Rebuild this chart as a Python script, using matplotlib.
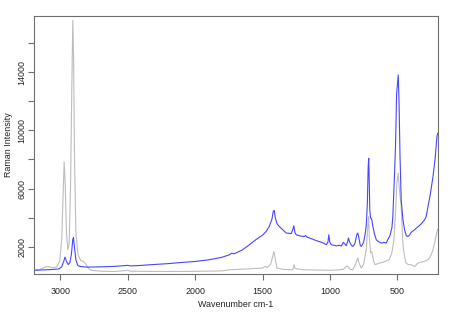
import numpy as np
import matplotlib.pyplot as plt

# Raman spectra (wavenumber cm-1, intensity)
blue_wavenumber = [
    3198, 3150, 3100, 3050, 3010, 2990, 2975, 2966, 2955, 2942, 2930, 2918,
    2908, 2903, 2896, 2885, 2870, 2850, 2800, 2700, 2600, 2500, 2480, 2400,
    2339, 2200, 2100, 2000, 1900, 1800, 1745, 1730, 1710, 1650, 1597, 1550,
    1500, 1473, 1450, 1430, 1420, 1413, 1405, 1395, 1386, 1360, 1324, 1300,
    1287, 1275, 1268, 1260, 1250, 1220, 1190, 1180, 1170, 1140, 1101, 1060,
    1027, 1015, 1008, 1002, 990, 950, 930, 916, 900, 890, 879, 870, 862, 855,
    840, 830, 815, 800, 792, 785, 775, 767, 750, 738, 730, 722, 716, 712, 708,
    704, 698, 690, 681, 670, 656, 640, 619, 600, 582, 570, 555, 540, 533, 520,
    513, 505, 493, 487, 480, 471, 458, 446, 433, 421, 409, 396, 371, 359, 330,
    297, 285, 272, 255, 235, 220, 205, 200,
]
blue_intensity = [
    380, 400, 420, 440, 480, 620, 1000, 1290, 1000, 780, 900, 1500,
    2500, 2640, 2000, 1100, 700, 640, 600, 620, 650, 720, 680, 720,
    760, 840, 920, 990, 1100, 1280, 1450, 1560, 1520, 1780, 2140, 2480,
    2800, 3050, 3400, 3900, 4450, 4490, 4000, 3650, 3500, 3250, 2940, 2920,
    2900, 3200, 3440, 3000, 2820, 2740, 2700, 2780, 2660, 2560, 2420, 2300,
    2140, 2300, 2820, 2350, 2140, 2060, 2100, 2050, 2300, 2200, 2070, 2300, 2600, 2350,
    2100, 2020, 2200, 2850, 2940, 2600, 2100, 2020, 2300, 2900, 3500, 5000, 7500, 8080, 6500,
    4500, 3970, 3900, 3390, 2900, 2480, 2350, 2250, 2300, 2250, 2500, 2750, 3300, 4080, 7100,
    9000, 12500, 13800, 12000, 8300, 5220, 3850, 3170, 2750, 2710, 2800, 3000, 3170, 3280, 3500,
    3850, 4100, 4770, 5600, 6820, 8000, 9620, 9800,
]

gray_wavenumber = [
    3198, 3150, 3110, 3090, 3060, 3030, 3005, 2990, 2980, 2972, 2965, 2955,
    2945, 2935, 2925, 2915, 2908, 2902, 2895, 2885, 2870, 2850, 2829, 2810,
    2790, 2770, 2700, 2600, 2500, 2480, 2339, 2100, 2000, 1800, 1745, 1600,
    1498, 1480, 1465, 1440, 1425, 1416, 1408, 1394, 1350, 1275, 1266, 1258,
    1200, 1002, 950, 900, 879, 867, 850, 830, 810, 798, 792, 785, 767, 750,
    730, 720, 712, 707, 698, 690, 675, 665, 631, 600, 560, 540, 525, 515, 503,
    493, 485, 471, 460, 454, 437, 420, 400, 371, 346, 300, 272, 250, 235, 220,
    205, 200,
]
gray_intensity = [
    400, 440, 620, 640, 560, 600, 1000, 2500, 5500, 7830, 6500, 3000,
    1800, 2200, 6000, 13000, 17550, 15000, 8000, 3000, 1500, 1050, 990, 800,
    500, 380, 320, 300, 380, 320, 306, 300, 310, 340, 420, 480,
    540, 650, 560, 800, 1300, 1680, 1300, 540, 450, 420, 770, 500,
    420, 380, 400, 450, 650, 650, 450, 420, 800, 1110, 1220, 900, 540, 800,
    1800, 3200, 4080, 2500, 1590, 1650, 1000, 770, 880, 950, 1110, 1600, 2480, 4000, 6390,
    7050, 6000, 4770, 2500, 1800, 900, 780, 770, 650, 880, 1000, 1110, 1400, 1800, 2400,
    3050, 3200,
]

y_ticks = np.arange(2000, 16001, 2000)
y_tick_labels = ["2000", "", "6000", "", "10000", "", "14000", ""]
x_ticks = [3000, 2500, 2000, 1500, 1000, 500]

plt.rcParams["font.family"] = ["Liberation Sans", "DejaVu Sans"]

fig = plt.figure(figsize=(4.5, 3.19), dpi=100)
ax = fig.add_axes([0.0749, 0.141, 0.8978, 0.8088])

ax.plot(gray_wavenumber, gray_intensity, color="#bdbdbd", lw=0.8)
ax.plot(blue_wavenumber, blue_intensity, color="#4646ff", lw=0.8)

ax.set_xlim(3198, 200)
ax.set_ylim(126, 17850)

ax.set_xticks(x_ticks)
ax.set_yticks(y_ticks)
ax.set_yticklabels(y_tick_labels, rotation=90, va="center")

for spine in ax.spines.values():
    spine.set_color("#6e6e6e")
    spine.set_linewidth(0.8)
ax.tick_params(colors="#6e6e6e", labelcolor="#222222", labelsize=6.4,
               length=4, width=0.8)
ax.tick_params(axis="x", pad=5)
ax.tick_params(axis="y", pad=1.5)

ax.set_xlabel("Wavenumber cm-1", fontsize=6.4, color="#222222", labelpad=3)
ax.set_ylabel("Raman Intensity", fontsize=6.4, color="#222222", labelpad=3)

fig.savefig("out.png", dpi=100)
